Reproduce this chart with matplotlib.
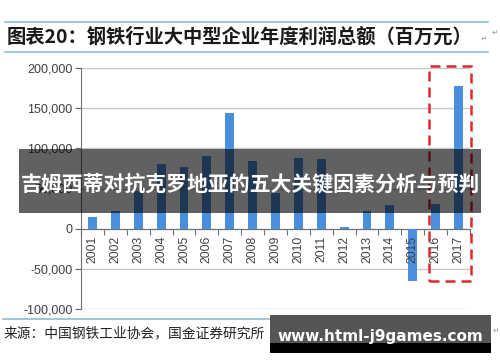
import matplotlib
matplotlib.use("Agg")
from matplotlib import pyplot as plt
from matplotlib.patches import Rectangle
from matplotlib.lines import Line2D
from matplotlib.transforms import offset_copy

plt.rcParams['font.family'] = ['Liberation Sans', 'Noto Sans CJK SC', 'DejaVu Sans']

# data (百万元)
years = ['2001', '2002', '2003', '2004', '2005', '2006', '2007', '2008', '2009',
         '2010', '2011', '2012', '2013', '2014', '2015', '2016', '2017']
profits = [15000, 22000, 47000, 81000, 77000, 90500, 144500, 84500, 44000,
           88000, 87000, 1500, 22500, 30000, -65000, 30500, 177500]
yticks = [-100000, -50000, 0, 50000, 100000, 150000, 200000]

title = '图表20：钢铁行业大中型企业年度利润总额（百万元）'
source = '来源：中国钢铁工业协会，国金证券研究所'
banner = '吉姆西蒂对抗克罗地亚的五大关键因素分析与预判'
watermark = 'www.html-j9games.com'

W, H = 500, 362
fig = plt.figure(figsize=(W / 100, H / 100), dpi=100)
fig.patch.set_facecolor('white')


def fx(x):
    return x / W


def fy(y):
    return 1 - y / H


# plot area: x 81..470 px, y 68..309 px
ax = fig.add_axes([fx(81), fy(309), (470 - 81) / W, (309 - 68) / H])
x = range(len(years))
ax.bar(x, profits, width=0.39, color='#4a8fdb', zorder=3)

ax.set_xlim(-0.5, len(years) - 0.5)
ax.set_ylim(-100000, 200000)
ax.set_yticks(yticks)
ax.set_yticklabels([f'{v:,}' for v in yticks])
ax.yaxis.grid(True, color='#c8c8c8', lw=1.0, zorder=0)
ax.tick_params(axis='y', length=4, width=0.8, color='#606060',
               labelsize=9, labelcolor='#404040', pad=2)

# category axis sits on zero, ticks between categories
ax.spines['bottom'].set_position(('data', 0))
ax.spines['bottom'].set_color('#707070')
ax.set_xticks([i - 0.5 for i in range(len(years) + 1)])
ax.set_xticklabels([])
ax.tick_params(axis='x', length=4, width=0.8, color='#707070', direction='out')
for s in ['top', 'right']:
    ax.spines[s].set_visible(False)
ax.spines['left'].set_color('#707070')
ax.axvline(len(years) - 0.5, ymin=1 / 6, ymax=1 / 3, color='#c8c8c8', lw=1.0)

lab_tr = offset_copy(ax.transData, fig=fig, x=0, y=-7, units='dots')
for i, yr in enumerate(years):
    ax.text(i, 0, yr, rotation=90, ha='center', va='top', fontsize=8.8,
            color='#404040', transform=lab_tr, zorder=4)

# red dashed highlight around 2016-2017
ax.add_patch(Rectangle((14.7, -65600), 1.85, 268700, fill=False,
                       edgecolor='#dd2a2a', lw=1.8, linestyle=(0, (4, 2.4)),
                       clip_on=False, zorder=5))

# header / footer rules
for yy in (22, 52):
    fig.add_artist(Line2D([fx(5), fx(488)], [fy(yy), fy(yy)], color='#8dbfcf', lw=1.2))
fig.add_artist(Line2D([fx(3), fx(490)], [fy(319), fy(319)], color='#8dbfcf', lw=1.2))

fig.text(fx(7), fy(37), title, fontsize=13.9, fontweight='bold', color='#1a1a1a',
         family=['Noto Sans CJK SC', 'DejaVu Sans'], ha='left', va='center')
fig.text(fx(484), fy(39), '↵', fontsize=5.5, color='#999999', ha='center', va='center')
fig.text(fx(495), fy(33), '↵', fontsize=5.5, color='#999999', ha='center', va='center')
fig.text(fx(4), fy(333), source, fontsize=9.9, color='#222222',
         family=['Noto Sans CJK SC', 'DejaVu Sans'], ha='left', va='center')
fig.text(fx(496), fy(331), '↵', fontsize=5.5, color='#999999', ha='center', va='center')

# overlay banner
fig.add_artist(Rectangle((fx(19), fy(213)), 462 / W, 64 / H, transform=fig.transFigure,
                         facecolor='black', alpha=0.62, edgecolor='none', zorder=10))
fig.text(fx(250), fy(184), banner, fontsize=15, fontweight='bold', color='white',
         family=['Noto Sans CJK SC', 'DejaVu Sans'], ha='center', va='center', zorder=11)

# watermark
fig.add_artist(Rectangle((fx(270), fy(343)), 221 / W, 28 / H, transform=fig.transFigure,
                         facecolor='#555555', edgecolor='none', zorder=10))
fig.add_artist(Rectangle((fx(270), fy(353)), 221 / W, 10 / H, transform=fig.transFigure,
                         facecolor='black', edgecolor='none', zorder=10))
fig.text(fx(380), fy(336), watermark, fontsize=11, fontweight='bold', color='white',
         family=['DejaVu Sans'], ha='center', va='center', zorder=11)

fig.savefig('out.png', dpi=100)
